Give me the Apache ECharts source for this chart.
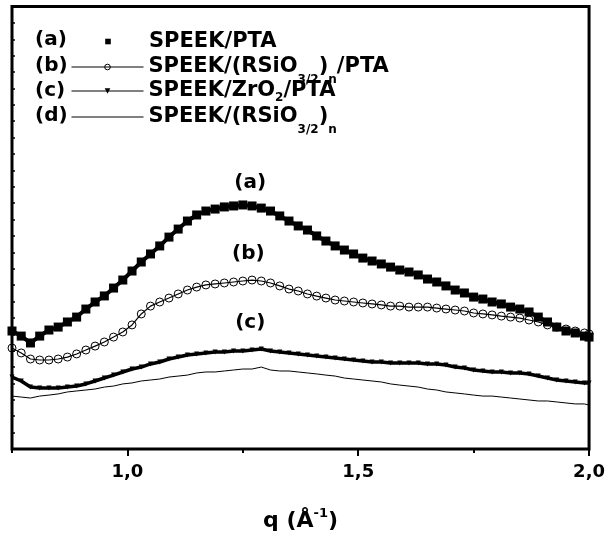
<!DOCTYPE html>
<html><head><meta charset="utf-8">
<script src="https://cdn.jsdelivr.net/npm/echarts@6/dist/echarts.min.js"></script>
<style>html,body{margin:0;padding:0;background:#fff}#c{width:608px;height:540px}</style>
</head><body><div id="c"></div>
<script>
// q values (Å^-1)
const qValues = [0.75,0.77,0.79,0.81,0.83,0.85,0.87,0.89,0.91,0.93,0.95,0.97,0.99,1.01,1.03,1.05,1.07,1.09,1.11,1.13,1.15,1.17,1.19,1.21,1.23,1.25,1.27,1.29,1.31,1.33,1.35,1.37,1.39,1.41,1.43,1.45,1.47,1.49,1.51,1.53,1.55,1.57,1.59,1.61,1.63,1.65,1.67,1.69,1.71,1.73,1.75,1.77,1.79,1.81,1.83,1.85,1.87,1.89,1.91,1.93,1.95,1.97,1.99,2.00];
// intensities (arbitrary units)
const seriesA = [7.20,6.89,6.47,6.89,7.26,7.44,7.75,8.05,8.54,8.97,9.34,9.82,10.31,10.86,11.41,11.90,12.39,12.93,13.42,13.91,14.28,14.52,14.64,14.77,14.83,14.89,14.83,14.70,14.52,14.22,13.91,13.61,13.36,13.00,12.69,12.39,12.14,11.90,11.65,11.47,11.29,11.10,10.92,10.80,10.62,10.37,10.19,9.95,9.70,9.52,9.27,9.15,8.97,8.85,8.66,8.54,8.36,8.05,7.75,7.44,7.20,7.08,6.89,6.83];
const seriesB = [6.16,5.86,5.49,5.43,5.43,5.49,5.61,5.80,6.04,6.28,6.53,6.83,7.14,7.57,8.24,8.72,8.97,9.21,9.46,9.70,9.88,10.01,10.07,10.13,10.19,10.25,10.31,10.25,10.13,9.95,9.76,9.64,9.46,9.33,9.21,9.09,9.03,8.97,8.91,8.85,8.79,8.72,8.72,8.66,8.66,8.66,8.60,8.54,8.48,8.42,8.30,8.24,8.18,8.11,8.05,7.99,7.87,7.75,7.57,7.44,7.32,7.20,7.08,7.02];
const seriesC = [4.39,4.15,3.78,3.72,3.72,3.72,3.78,3.84,3.97,4.15,4.33,4.51,4.70,4.88,5.00,5.19,5.31,5.49,5.61,5.74,5.80,5.86,5.92,5.92,5.98,5.98,6.04,6.10,5.98,5.92,5.86,5.80,5.74,5.67,5.61,5.55,5.49,5.43,5.37,5.31,5.31,5.25,5.25,5.25,5.25,5.19,5.19,5.13,5.00,4.94,4.82,4.76,4.70,4.70,4.64,4.64,4.58,4.45,4.33,4.21,4.15,4.09,4.03,4.03];
const seriesD = [3.23,3.17,3.11,3.23,3.29,3.36,3.48,3.54,3.60,3.66,3.78,3.84,3.97,4.03,4.15,4.21,4.27,4.39,4.45,4.51,4.64,4.70,4.70,4.76,4.82,4.88,4.88,5.00,4.82,4.76,4.76,4.70,4.64,4.58,4.51,4.45,4.33,4.27,4.21,4.15,4.09,3.97,3.90,3.84,3.78,3.66,3.60,3.48,3.42,3.36,3.29,3.23,3.23,3.17,3.11,3.05,2.99,2.93,2.93,2.87,2.81,2.75,2.75,2.68];
const seriesNames = ['SPEEK/PTA','SPEEK/(RSiO3/2)n/PTA','SPEEK/ZrO2/PTA','SPEEK/(RSiO3/2)n'];
const seriesTags = ['(a)','(b)','(c)','(d)'];
const xTickValues = [1.0,1.5,2.0];
const xTickLabels = ['1,0','1,5','2,0'];

const FONT = 'DejaVu Sans';
const richNames = {
  'SPEEK/PTA': '{m|SPEEK/PTA}',
  'SPEEK/(RSiO3/2)n/PTA': '{m|SPEEK/(RSiO}{s|3/2}{m|)}{s|n}{m|/PTA}',
  'SPEEK/ZrO2/PTA': '{m|SPEEK/ZrO}{z|2}{m|/PTA}',
  'SPEEK/(RSiO3/2)n': '{m|SPEEK/(RSiO}{s|3/2}{m|)}{s|n}'
};
const legendRich = {
  m: {fontFamily: FONT, fontSize: 21, fontWeight: 'bold', color: '#000', lineHeight: 36},
  s: {fontFamily: FONT, fontSize: 12, fontWeight: 'bold', color: '#000', lineHeight: 10, padding: [26, 0, 0, 0]},
  z: {fontFamily: FONT, fontSize: 12, fontWeight: 'bold', color: '#000', lineHeight: 12, padding: [19, 0, 5, 0]}
};
const rowCenters = [40, 66, 91, 116];
const legendTopFix = [9, 0, 0, 0];
const legendItems = [
  {name: seriesNames[0], lineStyle: {opacity: 0}},
  {name: seriesNames[1], itemStyle: {borderWidth: 1}, lineStyle: {width: 1}},
  {name: seriesNames[2], lineStyle: {width: 1}},
  {name: seriesNames[3], itemStyle: {opacity: 0}, lineStyle: {width: 1}}
];

const pts = arr => qValues.map((q, i) => [q, arr[i]]);
const tagLabel = (txt) => ({show: true, position: 'inside', formatter: txt, fontFamily: FONT, fontSize: 20, fontWeight: 'bold', color: '#000'});
const mp = (txt, coord) => ({
  silent: true, symbol: 'rect', symbolSize: 1, itemStyle: {color: 'rgba(0,0,0,0)'},
  label: tagLabel(txt), data: [{coord: coord}]
});

const chart = echarts.init(document.getElementById('c'), null, {renderer: 'canvas'});
chart.setOption({
  animation: false,
  backgroundColor: '#fff',
  grid: {left: 12, right: 17, top: 6.5, bottom: 91, show: true, borderColor: '#000', borderWidth: 3, backgroundColor: 'transparent'},
  xAxis: [{
    type: 'value', min: 0.75, max: 2.0, interval: 0.25, position: 'bottom',
    axisLine: {show: false},
    splitLine: {show: false},
    axisTick: {show: true, customValues: xTickValues, length: 7, lineStyle: {color: '#000', width: 2}},
    axisLabel: {show: true, customValues: xTickValues, margin: 14,
      formatter: v => { const i = xTickValues.findIndex(t => Math.abs(t - v) < 1e-6); return i >= 0 ? xTickLabels[i] : ''; },
      fontFamily: FONT, fontSize: 18, fontWeight: 'bold', color: '#000'},
    name: '{m|q (Å}{p|-1}{m|)}', nameLocation: 'middle', nameGap: 58,
    nameTextStyle: {rich: {
      m: {fontFamily: FONT, fontSize: 22, fontWeight: 'bold', color: '#000', lineHeight: 28},
      p: {fontFamily: FONT, fontSize: 13, fontWeight: 'bold', color: '#000', lineHeight: 13, padding: [0, 0, 15, 0]}
    }}
  }, {
    type: 'value', min: 0.75, max: 2.0, interval: 0.25, position: 'bottom',
    axisLine: {show: false}, splitLine: {show: false}, axisLabel: {show: false},
    axisTick: {show: true, customValues: [0.75, 1.25, 1.75], length: 4, lineStyle: {color: '#000', width: 2}}
  }],
  yAxis: {
    type: 'value', min: 0, max: 27, interval: 1,
    axisLine: {show: false}, splitLine: {show: false}, axisLabel: {show: false},
    axisTick: {show: true, inside: true, length: 3, lineStyle: {color: '#000', width: 1.5}}
  },
  legend: legendItems.map((it, i) => ({
    left: 71, top: rowCenters[i] - 18 + legendTopFix[i], orient: 'vertical', padding: 0,
    itemWidth: 72, itemHeight: 7, itemGap: 0, selectedMode: false,
    data: [it], formatter: n => richNames[n],
    textStyle: {color: '#000', rich: legendRich}
  })),
  graphic: seriesTags.map((t, i) => ({
    type: 'text', x: 35, y: rowCenters[i], silent: true,
    style: {text: t, fontFamily: FONT, fontSize: 20, fontWeight: 'bold', fill: '#000', verticalAlign: 'middle', align: 'left'}
  })),
  series: [
    {name: seriesNames[3], type: 'line', data: pts(seriesD), symbol: 'none', showSymbol: false,
     lineStyle: {color: '#000', width: 1}, itemStyle: {color: '#000'}, emphasis: {disabled: true}, z: 2},
    {name: seriesNames[2], type: 'line', data: pts(seriesC), symbol: 'triangle', symbolRotate: 180, symbolSize: 5,
     showSymbol: true, showAllSymbol: true,
     lineStyle: {color: '#000', width: 3.5}, itemStyle: {color: '#000'}, emphasis: {disabled: true}, z: 3,
     markPoint: mp('(c)', [1.266, 7.69])},
    {name: seriesNames[1], type: 'line', data: pts(seriesB), symbol: 'circle', symbolSize: 8,
     showSymbol: true, showAllSymbol: true,
     lineStyle: {color: '#000', width: 1.2}, itemStyle: {color: 'rgba(0,0,0,0)', borderColor: '#000', borderWidth: 1},
     emphasis: {disabled: true}, z: 4,
     markPoint: mp('(b)', [1.262, 11.90])},
    {name: seriesNames[0], type: 'line', data: pts(seriesA), symbol: 'rect', symbolSize: 9,
     showSymbol: true, showAllSymbol: true,
     lineStyle: {color: '#000', width: 4}, itemStyle: {color: '#000'}, emphasis: {disabled: true}, z: 5,
     markPoint: mp('(a)', [1.266, 16.23])}
  ]
});
</script></body></html>
